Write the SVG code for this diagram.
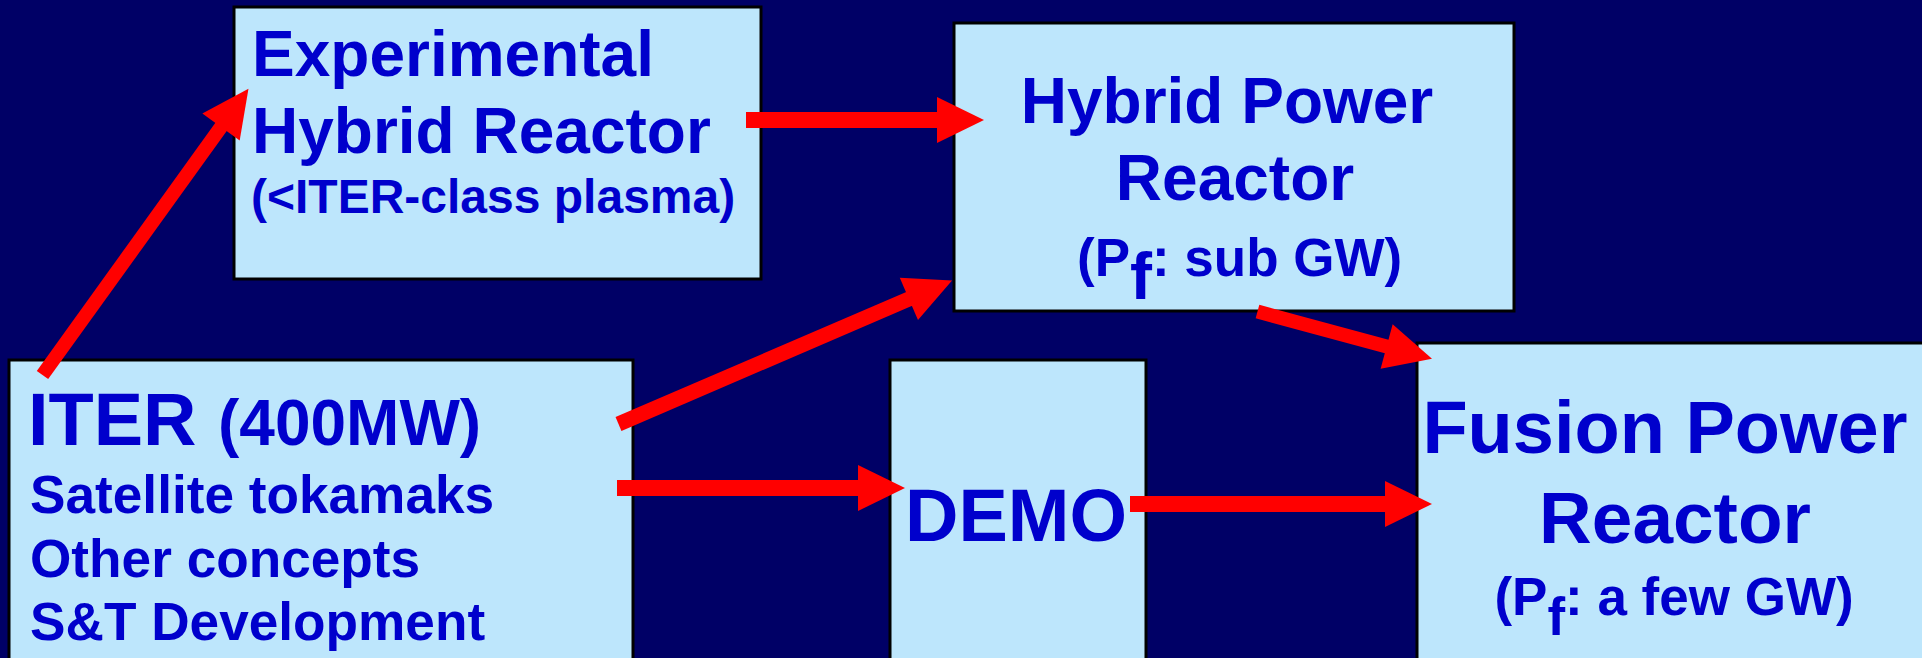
<svg xmlns="http://www.w3.org/2000/svg" width="1922" height="658" viewBox="0 0 1922 658">
<style>
.box{fill:#BDE6FC;stroke:#000000;stroke-width:3}
.t{font-family:"Liberation Sans",Arial,sans-serif;font-weight:bold;fill:#0000CC}
.arr{stroke:#FF0000;fill:none;stroke-linecap:butt;marker-end:url(#ah)}
</style>
<defs>
<marker id="ah" markerUnits="userSpaceOnUse" markerWidth="48" markerHeight="48" refX="1" refY="23" orient="auto" overflow="visible">
<path d="M0,0 L47,23 L0,46 Z" fill="#FF0000"/>
</marker>
</defs>
<rect x="0" y="0" width="1922" height="658" fill="#000066"/>
<g id="node-experimental">
<rect class="box" x="234" y="7" width="527" height="272"/>
<text class="t" x="252" y="76" font-size="64">Experimental</text>
<text class="t" x="252" y="153" font-size="64">Hybrid Reactor</text>
<text class="t" x="251" y="213" font-size="48">(&lt;ITER-class plasma)</text>
</g>
<g id="node-hybrid-power">
<rect class="box" x="954" y="23" width="560" height="288"/>
<text class="t" x="1227" y="123" font-size="64" text-anchor="middle">Hybrid Power</text>
<text class="t" x="1235" y="200" font-size="64" text-anchor="middle">Reactor</text>
<text class="t" x="1077" y="276" font-size="53">(P<tspan font-size="66" dy="23">f</tspan><tspan dy="-23">: sub GW)</tspan></text>
</g>
<g id="node-iter">
<rect class="box" x="9" y="360" width="624" height="320"/>
<text class="t" x="28" y="445" font-size="74">ITER</text>
<text class="t" x="218" y="445" font-size="64">(400MW)</text>
<text class="t" x="30" y="513" font-size="53.2">Satellite tokamaks</text>
<text class="t" x="30" y="577" font-size="53.2">Other concepts</text>
<text class="t" x="30" y="640" font-size="53.2">S&amp;T Development</text>
</g>
<g id="node-demo">
<rect class="box" x="890" y="360" width="256" height="320"/>
<text class="t" x="905" y="541" font-size="74">DEMO</text>
</g>
<g id="node-fusion-power">
<rect class="box" x="1417" y="343" width="520" height="340"/>
<text class="t" x="1665" y="453" font-size="74" text-anchor="middle">Fusion Power</text>
<text class="t" x="1675" y="543" font-size="73" text-anchor="middle">Reactor</text>
<text class="t" x="1674" y="615" font-size="53" text-anchor="middle">(P<tspan dy="20">f</tspan><tspan dy="-20">: a few GW)</tspan></text>
</g>
<g id="connectors">
<line class="arr" x1="42.5" y1="375" x2="221.6" y2="126.2" stroke-width="14"/>
<line class="arr" x1="746" y1="120" x2="938" y2="120" stroke-width="16"/>
<line class="arr" x1="618.5" y1="424" x2="909.8" y2="298.6" stroke-width="15"/>
<line class="arr" x1="617" y1="488" x2="859" y2="488" stroke-width="16"/>
<line class="arr" x1="1130" y1="504" x2="1386" y2="504" stroke-width="16"/>
<line class="arr" x1="1257.5" y1="311.5" x2="1387.6" y2="346.7" stroke-width="14"/>
</g>
</svg>
